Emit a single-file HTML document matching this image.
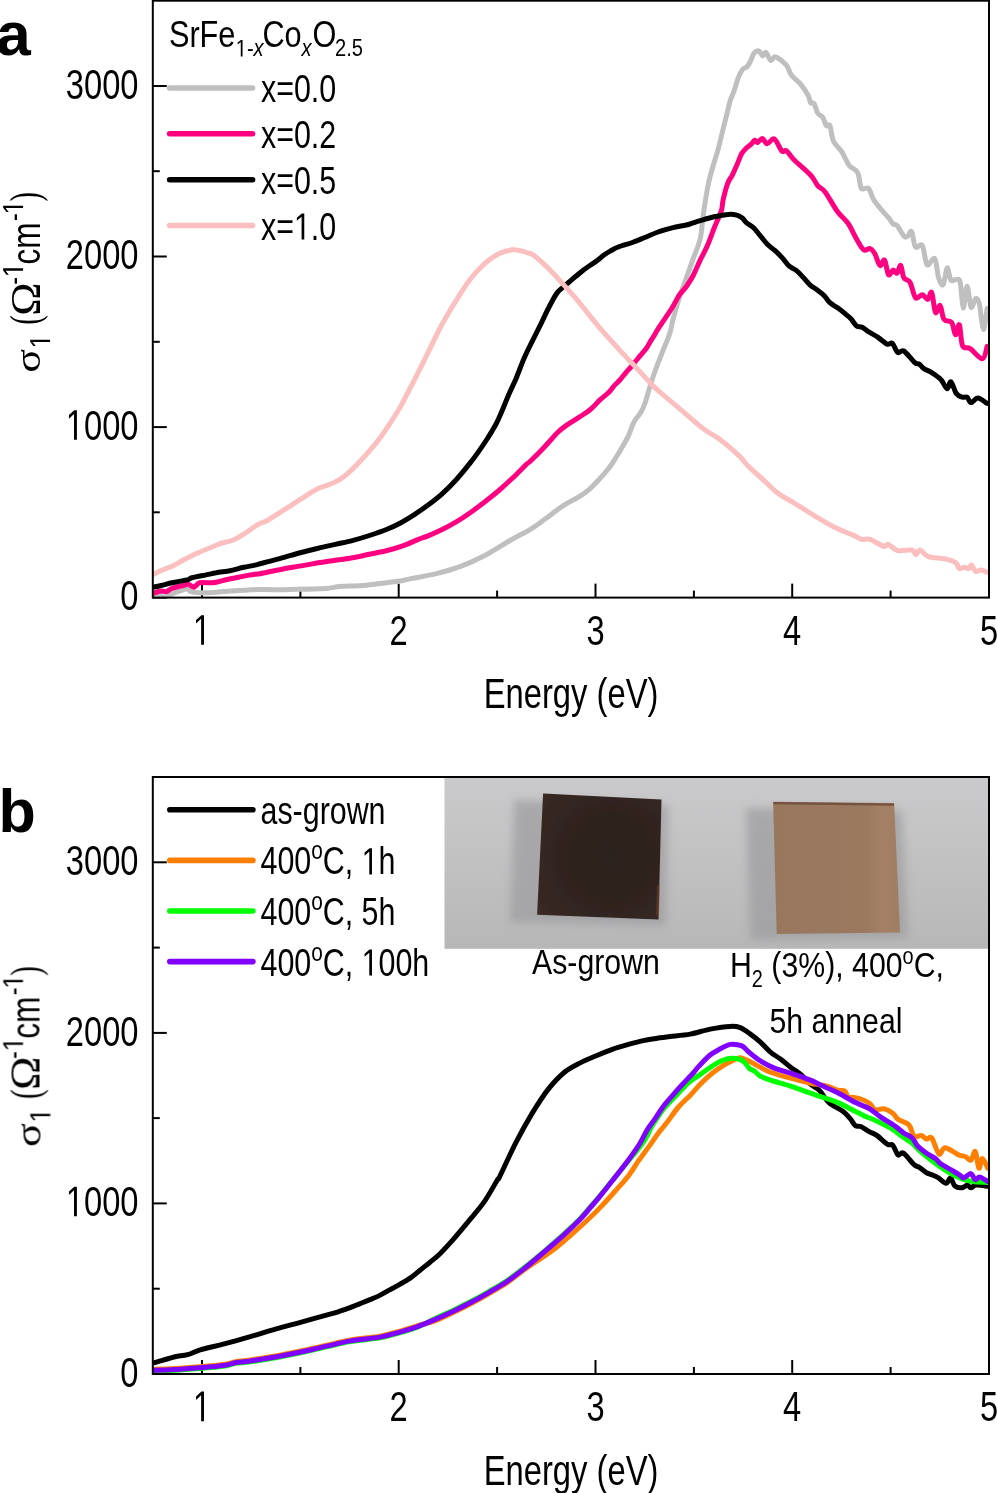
<!DOCTYPE html><html><head><meta charset="utf-8"><style>html,body{margin:0;padding:0;background:#fff;overflow:hidden}svg{display:block}text{font-family:'Liberation Sans', sans-serif;fill:#000}</style></head><body>
<svg width="997" height="1493" viewBox="0 0 997 1493">
<rect width="997" height="1493" fill="#fff"/>
<g style="will-change:opacity" opacity="0.999">
<defs>
<linearGradient id="bg" x1="0" y1="0" x2="0" y2="1"><stop offset="0" stop-color="#cacacc"/><stop offset="0.5" stop-color="#c1c1c2"/><stop offset="1" stop-color="#b8b7b8"/></linearGradient>
<radialGradient id="dk" cx="0.6" cy="0.5" r="0.85"><stop offset="0" stop-color="#2c201d"/><stop offset="0.35" stop-color="#2e221e"/><stop offset="0.75" stop-color="#362722"/><stop offset="1" stop-color="#3f2e29"/></radialGradient>
<linearGradient id="lt" x1="0" y1="0" x2="1" y2="0"><stop offset="0" stop-color="#98775d"/><stop offset="0.75" stop-color="#9b795f"/><stop offset="0.85" stop-color="#a38066"/><stop offset="1" stop-color="#a07e64"/></linearGradient>
<filter id="blur" x="-30%" y="-30%" width="160%" height="160%"><feGaussianBlur stdDeviation="4"/></filter>
<filter id="blur1" x="-30%" y="-30%" width="160%" height="160%"><feGaussianBlur stdDeviation="0.7"/></filter>
</defs>
<rect x="444.5" y="777.5" width="544.5" height="171.29999999999995" fill="url(#bg)"/>
<polygon points="514,800 668,805 666,926 510,922" fill="#9c9c9f" opacity="0.7" filter="url(#blur)"/>
<polygon points="746,808 902,810 908,938 750,940" fill="#9c9c9f" opacity="0.7" filter="url(#blur)"/>
<polygon points="543.1,793.6 661.5,799.5 658.5,919.4 537.1,914.8" fill="url(#dk)" filter="url(#blur1)"/>
<polygon points="657,885 660,886 659,916 656,915" fill="#8a4a2a" opacity="0.4" filter="url(#blur1)"/>
<polygon points="773.1,801.7 894.1,803.1 900.1,932.5 776.7,934.1" fill="url(#lt)" filter="url(#blur1)"/>
<polyline points="773.5,803.2 894,804.6" stroke="#74513f" stroke-width="2.2" fill="none" filter="url(#blur1)"/>
<line x1="152.8" y1="597.6" x2="166.8" y2="597.6" stroke="#000" stroke-width="2"/>
<line x1="152.8" y1="512.3" x2="159.8" y2="512.3" stroke="#000" stroke-width="2"/>
<line x1="152.8" y1="427.1" x2="166.8" y2="427.1" stroke="#000" stroke-width="2"/>
<line x1="152.8" y1="341.8" x2="159.8" y2="341.8" stroke="#000" stroke-width="2"/>
<line x1="152.8" y1="256.5" x2="166.8" y2="256.5" stroke="#000" stroke-width="2"/>
<line x1="152.8" y1="171.2" x2="159.8" y2="171.2" stroke="#000" stroke-width="2"/>
<line x1="152.8" y1="86.0" x2="166.8" y2="86.0" stroke="#000" stroke-width="2"/>
<line x1="202.0" y1="597.6" x2="202.0" y2="583.6" stroke="#000" stroke-width="2"/>
<line x1="300.4" y1="597.6" x2="300.4" y2="590.6" stroke="#000" stroke-width="2"/>
<line x1="398.7" y1="597.6" x2="398.7" y2="583.6" stroke="#000" stroke-width="2"/>
<line x1="497.1" y1="597.6" x2="497.1" y2="590.6" stroke="#000" stroke-width="2"/>
<line x1="595.5" y1="597.6" x2="595.5" y2="583.6" stroke="#000" stroke-width="2"/>
<line x1="693.9" y1="597.6" x2="693.9" y2="590.6" stroke="#000" stroke-width="2"/>
<line x1="792.2" y1="597.6" x2="792.2" y2="583.6" stroke="#000" stroke-width="2"/>
<line x1="890.6" y1="597.6" x2="890.6" y2="590.6" stroke="#000" stroke-width="2"/>
<line x1="989.0" y1="597.6" x2="989.0" y2="583.6" stroke="#000" stroke-width="2"/>
<line x1="152.8" y1="1374.0" x2="166.8" y2="1374.0" stroke="#000" stroke-width="2"/>
<line x1="152.8" y1="1288.7" x2="159.8" y2="1288.7" stroke="#000" stroke-width="2"/>
<line x1="152.8" y1="1203.4" x2="166.8" y2="1203.4" stroke="#000" stroke-width="2"/>
<line x1="152.8" y1="1118.1" x2="159.8" y2="1118.1" stroke="#000" stroke-width="2"/>
<line x1="152.8" y1="1032.9" x2="166.8" y2="1032.9" stroke="#000" stroke-width="2"/>
<line x1="152.8" y1="947.6" x2="159.8" y2="947.6" stroke="#000" stroke-width="2"/>
<line x1="152.8" y1="862.3" x2="166.8" y2="862.3" stroke="#000" stroke-width="2"/>
<line x1="202.0" y1="1374.0" x2="202.0" y2="1360.0" stroke="#000" stroke-width="2"/>
<line x1="300.4" y1="1374.0" x2="300.4" y2="1367.0" stroke="#000" stroke-width="2"/>
<line x1="398.7" y1="1374.0" x2="398.7" y2="1360.0" stroke="#000" stroke-width="2"/>
<line x1="497.1" y1="1374.0" x2="497.1" y2="1367.0" stroke="#000" stroke-width="2"/>
<line x1="595.5" y1="1374.0" x2="595.5" y2="1360.0" stroke="#000" stroke-width="2"/>
<line x1="693.9" y1="1374.0" x2="693.9" y2="1367.0" stroke="#000" stroke-width="2"/>
<line x1="792.2" y1="1374.0" x2="792.2" y2="1360.0" stroke="#000" stroke-width="2"/>
<line x1="890.6" y1="1374.0" x2="890.6" y2="1367.0" stroke="#000" stroke-width="2"/>
<line x1="989.0" y1="1374.0" x2="989.0" y2="1360.0" stroke="#000" stroke-width="2"/>
<clipPath id="ca"><rect x="152.8" y="0.7" width="836.2" height="596.9"/></clipPath>
<clipPath id="cb"><rect x="152.8" y="777" width="836.2" height="597"/></clipPath>
<g clip-path="url(#ca)">
<path d="M152.0,596.6 C152.2,596.6 152.2,596.9 153.3,596.6 C154.4,596.3 157.0,594.8 158.8,594.9 C160.6,595.0 162.1,597.3 164.3,597.1 C166.5,596.9 169.3,594.9 172.1,593.8 C174.9,592.7 178.3,591.3 180.9,590.5 C183.5,589.7 185.8,588.6 187.5,588.8 C189.2,589.0 188.8,591.0 190.8,591.6 C192.8,592.2 195.4,592.6 199.6,592.7 C203.8,592.8 209.8,592.6 216.2,592.2 C222.6,591.8 231.0,591.0 238.3,590.5 C245.6,590.0 253.9,589.5 260.0,589.4 C266.1,589.3 270.0,589.8 275.0,589.8 C280.0,589.8 281.7,589.7 290.0,589.5 C298.3,589.3 316.7,589.0 325.0,588.5 C333.3,588.0 333.7,587.0 340.0,586.5 C346.3,586.0 355.0,586.2 363.0,585.5 C371.0,584.8 381.8,583.2 388.0,582.5 C394.2,581.8 396.0,581.7 400.0,581.0 C404.0,580.3 405.9,579.6 412.0,578.4 C418.1,577.2 428.4,575.6 436.5,573.6 C444.6,571.6 452.6,569.4 460.6,566.4 C468.7,563.4 476.4,559.9 484.8,555.5 C493.2,551.1 503.4,544.3 510.9,540.0 C518.4,535.7 524.5,533.0 530.0,529.6 C535.5,526.2 539.3,523.2 544.0,519.8 C548.7,516.4 554.4,511.9 558.1,509.2 C561.9,506.5 563.0,505.7 566.5,503.6 C570.0,501.5 575.5,498.9 579.2,496.6 C583.0,494.3 585.5,492.7 589.0,489.6 C592.5,486.6 596.9,481.8 600.2,478.3 C603.5,474.8 606.2,471.5 608.6,468.5 C611.0,465.5 612.2,463.4 614.3,460.1 C616.4,456.8 619.0,452.8 621.3,448.8 C623.6,444.8 626.2,440.6 628.3,436.2 C630.4,431.8 631.8,426.1 633.9,422.1 C636.0,418.1 639.0,415.6 640.9,412.3 C642.8,409.0 643.8,406.5 645.2,402.5 C646.6,398.5 647.9,393.3 649.4,388.4 C650.9,383.5 652.3,378.9 654.4,373.0 C656.5,367.1 659.5,359.5 662.0,353.0 C664.5,346.5 667.7,339.7 669.6,333.9 C671.5,328.1 671.8,323.9 673.4,318.0 C675.0,312.1 677.0,305.1 679.1,298.5 C681.2,291.9 683.9,284.9 686.2,278.3 C688.6,271.7 690.9,265.2 693.2,258.7 C695.5,252.1 698.6,245.9 700.2,239.0 C701.8,232.1 702.1,223.5 703.0,217.0 C703.9,210.5 704.5,205.8 705.5,200.0 C706.5,194.2 707.6,187.3 708.8,181.9 C710.0,176.5 710.9,173.3 712.5,167.8 C714.1,162.3 716.5,155.3 718.2,149.1 C719.9,142.8 721.2,136.6 722.8,130.3 C724.3,124.1 726.2,116.6 727.5,111.6 C728.8,106.6 729.2,103.8 730.3,100.3 C731.4,96.8 732.8,94.5 734.1,90.9 C735.4,87.3 736.5,82.4 737.9,78.8 C739.3,75.2 741.0,71.4 742.5,69.4 C744.0,67.4 745.8,68.2 747.2,66.6 C748.6,65.0 749.9,62.2 751.0,60.0 C752.1,57.8 752.6,54.8 753.9,53.3 C755.2,51.8 757.4,50.5 758.8,50.9 C760.2,51.3 761.2,55.4 762.4,55.7 C763.6,56.0 764.6,51.7 766.0,52.5 C767.4,53.3 769.2,59.8 770.8,60.5 C772.4,61.2 773.0,56.1 775.6,56.9 C778.2,57.7 783.9,62.3 786.5,65.3 C789.1,68.3 788.9,71.8 791.3,75.0 C793.7,78.2 798.2,81.2 801.0,84.6 C803.8,88.0 806.6,92.5 808.2,95.5 C809.8,98.5 809.6,101.3 810.6,102.7 C811.6,104.1 813.0,102.1 814.2,103.9 C815.4,105.7 816.5,111.3 817.9,113.5 C819.3,115.7 821.3,115.2 822.7,117.2 C824.1,119.2 825.1,124.2 826.3,125.6 C827.5,127.0 828.7,123.0 829.9,125.6 C831.1,128.2 831.5,136.9 833.5,141.3 C835.5,145.7 839.4,148.1 842.0,152.1 C844.6,156.1 846.6,162.0 849.2,165.4 C851.8,168.8 855.7,168.8 857.7,172.6 C859.7,176.4 859.5,185.7 861.3,188.3 C863.1,190.9 866.5,186.5 868.5,188.3 C870.5,190.1 871.4,195.8 873.4,199.2 C875.4,202.6 878.1,205.7 880.6,208.8 C883.1,211.9 886.4,215.2 888.5,217.7 C890.6,220.2 891.7,222.6 893.1,223.9 C894.5,225.2 895.2,223.4 897.0,225.4 C898.8,227.4 902.1,234.4 903.9,236.2 C905.7,238.0 906.5,237.0 907.8,236.2 C909.1,235.4 910.3,229.8 911.6,231.6 C912.9,233.4 913.7,244.7 915.5,247.0 C917.3,249.3 920.5,242.6 922.4,245.5 C924.3,248.4 925.0,262.5 927.0,264.7 C929.0,266.9 932.8,256.4 934.7,258.6 C936.6,260.8 937.2,273.5 938.6,277.8 C940.0,282.1 941.8,286.4 943.2,284.7 C944.6,283.0 945.8,268.6 947.1,267.8 C948.4,267.0 949.4,278.2 950.9,280.1 C952.4,282.0 954.8,279.0 956.3,279.4 C957.8,279.8 959.1,277.6 960.2,282.4 C961.4,287.1 962.1,307.2 963.2,307.9 C964.4,308.5 965.8,286.4 967.1,286.3 C968.4,286.2 969.6,305.1 971.0,307.1 C972.4,309.2 974.2,299.1 975.6,298.6 C977.0,298.1 978.1,298.9 979.4,304.0 C980.7,309.1 982.0,328.6 983.3,329.4 C984.6,330.2 986.5,312.1 987.1,308.6" fill="none" stroke="#bfbfbf" stroke-width="5.0" stroke-linejoin="round" stroke-linecap="round"/>
<path d="M152.0,593.5 C152.2,593.5 151.8,593.7 153.3,593.3 C154.8,592.9 158.8,591.4 161.0,591.1 C163.2,590.8 164.7,592.1 166.5,591.6 C168.3,591.1 169.3,589.3 172.1,588.3 C174.9,587.3 180.3,586.1 183.1,585.5 C185.8,584.9 186.8,584.1 188.6,584.4 C190.4,584.7 192.3,587.5 194.1,587.2 C195.9,586.9 196.8,583.5 199.6,582.8 C202.4,582.1 207.9,582.9 210.7,582.8 C213.5,582.7 213.4,582.8 216.2,582.2 C218.9,581.7 223.5,580.3 227.2,579.5 C230.9,578.7 234.6,578.0 238.3,577.3 C242.0,576.6 245.7,575.7 249.3,575.1 C252.9,574.5 257.0,574.2 260.0,573.7 C263.0,573.2 263.1,573.0 267.1,572.2 C271.1,571.4 278.4,569.8 284.1,568.7 C289.8,567.7 295.5,566.9 301.2,565.9 C306.9,564.9 312.5,563.8 318.2,562.8 C323.9,561.8 329.6,561.1 335.3,560.2 C341.0,559.4 346.6,558.7 352.3,557.7 C358.0,556.7 363.7,555.4 369.4,554.3 C375.1,553.1 380.7,552.2 386.4,550.8 C392.1,549.4 398.2,547.6 403.5,545.7 C408.8,543.8 414.2,541.0 418.3,539.4 C422.4,537.8 424.1,537.5 428.1,535.9 C432.1,534.3 437.4,531.9 442.1,529.6 C446.8,527.3 451.5,524.7 456.2,521.9 C460.9,519.1 465.5,516.0 470.2,512.7 C474.9,509.4 479.6,505.8 484.3,502.2 C489.0,498.6 493.6,495.0 498.3,491.0 C503.0,487.0 507.6,482.8 512.3,478.3 C517.0,473.9 523.4,467.1 526.4,464.3 C529.4,461.5 527.1,464.3 530.0,461.5 C532.9,458.7 539.3,452.3 544.0,447.4 C548.7,442.5 554.6,435.5 558.1,432.0 C561.6,428.5 561.6,428.9 565.1,426.4 C568.6,423.9 575.0,420.0 579.2,417.2 C583.4,414.4 586.9,412.4 590.4,409.5 C593.9,406.6 597.2,402.5 600.2,399.7 C603.2,396.9 606.2,395.0 608.6,392.6 C611.0,390.2 612.4,387.7 614.3,385.6 C616.2,383.5 618.1,382.0 619.9,380.0 C621.7,378.0 623.4,375.6 625.3,373.4 C627.2,371.1 628.9,369.3 631.3,366.5 C633.6,363.7 636.9,359.7 639.4,356.6 C641.9,353.6 644.5,350.8 646.4,348.2 C648.3,345.6 649.2,343.4 650.6,341.1 C652.0,338.8 653.5,336.5 654.8,334.5 C656.0,332.5 655.2,333.3 658.1,328.9 C661.0,324.4 668.6,313.4 672.1,307.8 C675.6,302.2 676.9,298.7 679.2,295.2 C681.6,291.7 683.9,290.1 686.2,286.8 C688.5,283.5 690.9,279.9 693.2,275.5 C695.5,271.1 697.9,265.0 700.2,260.1 C702.5,255.2 704.9,251.4 707.2,246.0 C709.6,240.6 711.9,233.7 714.3,227.8 C716.6,222.0 719.8,215.5 721.3,210.9 C722.8,206.3 722.0,205.0 723.0,200.5 C724.0,196.0 726.0,188.0 727.5,183.8 C729.0,179.6 730.6,178.4 732.2,175.3 C733.8,172.2 735.3,168.6 736.9,165.0 C738.5,161.4 740.0,156.6 741.6,153.8 C743.2,151.0 744.7,149.7 746.3,148.1 C747.9,146.5 749.6,145.7 751.0,144.4 C752.4,143.1 753.6,140.5 754.7,140.2 C755.8,139.9 756.3,142.8 757.6,142.5 C758.9,142.2 760.8,138.4 762.4,138.6 C764.0,138.8 765.2,143.6 767.2,143.7 C769.2,143.8 772.0,137.7 774.4,138.9 C776.8,140.1 779.7,148.9 781.7,150.9 C783.7,152.9 784.5,149.5 786.5,150.9 C788.5,152.3 789.7,155.4 793.7,159.4 C797.7,163.4 806.6,170.6 810.6,175.0 C814.6,179.4 815.5,183.1 817.9,185.9 C820.3,188.7 821.9,187.7 825.1,191.9 C828.3,196.1 833.4,206.0 837.2,211.2 C841.0,216.4 844.8,218.7 848.0,223.3 C851.2,227.9 853.9,234.5 856.5,238.9 C859.1,243.3 861.5,248.2 863.7,249.8 C866.0,251.4 868.2,247.9 870.0,248.5 C871.8,249.1 872.9,250.4 874.6,253.2 C876.3,256.0 878.3,264.4 880.0,265.5 C881.7,266.6 883.2,258.6 884.6,260.1 C886.0,261.6 887.1,273.0 888.5,274.7 C889.9,276.4 891.7,270.4 893.1,270.1 C894.5,269.9 895.7,274.0 897.0,273.2 C898.3,272.4 899.6,264.7 900.8,265.5 C901.9,266.3 902.3,275.0 903.9,277.8 C905.5,280.6 908.2,279.1 910.1,282.4 C912.0,285.7 913.5,295.7 915.5,297.8 C917.5,299.9 920.4,294.5 922.4,294.8 C924.4,295.1 926.2,299.8 927.8,299.4 C929.3,299.0 930.4,290.2 931.7,292.4 C933.0,294.6 934.1,310.3 935.5,312.5 C936.9,314.7 938.7,304.4 940.1,305.5 C941.5,306.6 942.1,316.6 944.0,319.4 C945.9,322.2 949.8,319.9 951.7,322.5 C953.6,325.1 954.2,334.4 955.5,334.8 C956.8,335.2 958.2,323.0 959.4,324.8 C960.6,326.6 960.7,341.6 962.5,345.6 C964.3,349.6 966.9,346.5 970.2,348.7 C973.5,350.9 979.7,359.1 982.5,358.7 C985.3,358.3 986.3,348.4 987.1,346.4" fill="none" stroke="#ff0080" stroke-width="5.0" stroke-linejoin="round" stroke-linecap="round"/>
<path d="M152.0,587.4 C152.2,587.4 151.8,587.5 153.3,587.2 C154.8,586.9 157.9,586.2 161.0,585.5 C164.1,584.8 168.4,583.6 172.1,582.8 C175.8,582.0 180.3,581.1 183.1,580.6 C185.8,580.1 187.1,580.0 188.6,579.5 C190.1,579.0 189.1,578.5 191.9,577.8 C194.7,577.1 201.1,575.9 205.2,575.1 C209.2,574.3 212.5,573.4 216.2,572.8 C219.9,572.1 224.4,571.7 227.2,571.2 C229.9,570.8 229.9,570.8 232.7,570.1 C235.5,569.5 240.1,568.1 243.8,567.3 C247.5,566.5 252.1,565.7 254.8,565.1 C257.5,564.5 257.9,564.3 260.0,563.8 C262.1,563.3 263.1,563.0 267.1,561.9 C271.1,560.8 278.4,558.9 284.1,557.3 C289.8,555.7 295.5,554.0 301.2,552.5 C306.9,551.0 312.5,549.6 318.2,548.3 C323.9,546.9 329.6,545.7 335.3,544.4 C341.0,543.1 346.6,542.1 352.3,540.6 C358.0,539.1 363.7,537.4 369.4,535.5 C375.1,533.6 381.3,531.5 386.4,529.5 C391.5,527.5 395.4,525.8 400.0,523.3 C404.6,520.8 409.3,517.8 414.0,514.8 C418.7,511.7 423.4,508.5 428.1,505.0 C432.8,501.5 437.4,498.0 442.1,493.8 C446.8,489.6 451.5,484.9 456.2,479.7 C460.9,474.5 466.5,467.6 470.2,462.9 C473.9,458.2 475.8,455.6 478.6,451.6 C481.4,447.6 484.3,443.4 487.1,439.0 C489.9,434.6 492.9,429.8 495.5,425.0 C498.1,420.2 500.1,415.2 502.4,410.0 C504.6,404.8 506.7,399.3 509.0,394.0 C511.3,388.7 513.6,384.3 516.1,378.4 C518.6,372.4 521.4,364.5 524.1,358.3 C526.8,352.1 529.5,346.9 532.2,341.4 C534.9,335.9 537.5,330.9 540.2,325.4 C542.9,319.9 545.6,313.7 548.3,308.5 C551.0,303.3 554.0,297.4 556.3,294.0 C558.6,290.6 560.0,290.0 562.1,288.0 C564.2,286.0 566.8,284.0 569.1,282.0 C571.5,280.0 573.9,277.9 576.2,276.0 C578.6,274.1 580.9,272.1 583.2,270.3 C585.5,268.5 587.9,266.9 590.2,265.3 C592.5,263.7 594.9,262.3 597.2,260.5 C599.6,258.7 601.9,256.4 604.3,254.7 C606.6,253.0 609.0,251.8 611.3,250.5 C613.6,249.2 614.8,248.3 618.3,247.0 C621.8,245.7 628.0,244.0 632.3,242.5 C636.6,241.0 639.7,239.6 644.0,237.8 C648.3,236.1 653.4,233.7 658.1,232.0 C662.8,230.3 667.4,229.0 672.1,227.8 C676.8,226.6 682.7,225.8 686.2,225.0 C689.7,224.2 690.9,223.5 693.2,222.8 C695.5,222.1 696.7,221.7 700.2,220.7 C703.7,219.7 709.6,217.9 714.3,216.8 C719.0,215.8 724.6,214.7 728.3,214.4 C732.0,214.1 734.4,214.5 736.7,215.1 C739.0,215.7 740.6,216.6 742.3,217.9 C743.9,219.2 744.7,221.2 746.6,222.8 C748.5,224.5 751.3,225.6 753.6,227.8 C755.9,230.0 758.2,233.3 760.6,236.2 C763.0,239.1 765.7,242.7 768.1,245.1 C770.5,247.5 772.8,248.6 775.1,250.7 C777.4,252.8 779.8,255.1 782.1,257.7 C784.5,260.3 786.9,264.1 789.2,266.2 C791.6,268.3 793.9,268.5 796.2,270.4 C798.5,272.3 800.9,274.9 803.2,277.4 C805.5,279.8 807.9,283.0 810.2,285.1 C812.5,287.2 814.9,288.2 817.2,290.0 C819.6,291.8 822.2,293.6 824.3,295.7 C826.4,297.8 827.6,300.6 829.9,302.7 C832.2,304.8 835.7,306.4 838.3,308.3 C840.9,310.2 843.2,312.1 845.3,313.9 C847.4,315.6 849.0,316.8 850.9,318.8 C852.8,320.8 854.7,324.5 856.6,325.9 C858.5,327.3 860.1,326.2 862.2,327.3 C864.3,328.4 866.6,330.6 869.2,332.2 C871.8,333.8 874.7,335.1 877.7,337.1 C880.7,339.1 884.6,343.1 887.0,344.1 C889.4,345.1 890.5,341.9 892.3,343.3 C894.1,344.7 895.8,351.2 897.7,352.5 C899.6,353.8 901.1,349.3 903.9,351.0 C906.7,352.7 912.1,360.3 914.7,362.5 C917.3,364.7 917.8,363.1 919.3,364.1 C920.8,365.1 921.8,367.3 923.9,368.7 C926.0,370.1 928.9,370.8 931.7,372.6 C934.5,374.4 938.3,376.8 940.9,379.5 C943.5,382.2 945.4,388.3 947.1,388.7 C948.8,389.1 949.4,381.0 950.9,381.8 C952.4,382.6 954.4,390.8 956.3,393.4 C958.2,396.0 960.7,396.6 962.5,397.2 C964.3,397.8 965.7,396.3 967.1,397.2 C968.5,398.1 969.2,402.5 971.0,402.6 C972.8,402.7 975.2,397.9 977.9,398.0 C980.6,398.1 985.6,402.5 987.1,403.4" fill="none" stroke="#000000" stroke-width="5.0" stroke-linejoin="round" stroke-linecap="round"/>
<path d="M152.0,575.0 C152.2,574.9 151.8,575.2 153.3,574.5 C154.8,573.8 157.9,572.0 161.0,570.6 C164.1,569.2 168.4,567.9 172.1,566.2 C175.8,564.5 179.4,562.1 183.1,560.2 C186.8,558.3 190.4,556.4 194.1,554.6 C197.8,552.9 201.5,551.2 205.2,549.7 C208.9,548.2 213.4,546.4 216.2,545.3 C218.9,544.2 218.9,543.8 221.7,543.0 C224.4,542.2 229.0,541.8 232.7,540.3 C236.4,538.8 240.1,536.5 243.8,534.2 C247.5,531.9 252.1,528.3 254.8,526.5 C257.5,524.7 257.9,524.5 260.0,523.5 C262.1,522.5 263.1,522.8 267.1,520.5 C271.1,518.2 278.4,513.5 284.1,509.9 C289.8,506.3 295.5,502.4 301.2,498.8 C306.9,495.2 313.4,491.0 318.2,488.6 C323.0,486.2 326.4,485.9 330.0,484.3 C333.6,482.8 336.6,481.5 340.0,479.3 C343.4,477.1 346.8,474.3 350.1,471.3 C353.5,468.3 356.8,464.8 360.1,461.3 C363.4,457.8 366.8,454.1 370.1,450.2 C373.5,446.3 376.9,442.2 380.2,437.7 C383.5,433.2 386.9,428.2 390.2,423.1 C393.5,418.0 396.9,413.0 400.2,407.1 C403.5,401.2 407.8,392.5 410.2,388.0 C412.6,383.5 411.3,386.1 414.3,380.2 C417.3,374.3 423.5,361.7 428.1,352.4 C432.7,343.1 437.4,333.0 442.1,324.3 C446.8,315.6 451.5,307.9 456.2,300.4 C460.9,292.9 465.5,285.4 470.2,279.3 C474.9,273.2 479.6,268.1 484.3,263.9 C489.0,259.7 493.6,256.4 498.3,254.0 C503.0,251.7 508.8,250.4 512.3,249.8 C515.8,249.2 517.0,250.1 519.4,250.5 C521.8,250.9 524.0,251.7 526.4,252.5 C528.8,253.3 530.4,252.9 534.0,255.5 C537.6,258.1 543.9,264.1 548.1,268.1 C552.3,272.1 554.0,274.1 559.0,279.6 C564.0,285.1 571.9,293.7 578.3,301.3 C584.7,308.9 591.2,317.8 597.6,325.4 C604.0,333.0 610.5,340.1 616.9,347.1 C623.3,354.1 629.8,360.8 636.2,367.6 C642.6,374.4 648.3,381.3 655.5,388.1 C662.7,394.9 671.6,401.8 679.6,408.6 C687.6,415.4 697.0,424.0 703.7,429.1 C710.4,434.2 714.0,434.9 720.0,439.4 C726.0,443.9 734.8,451.7 739.4,456.1 C744.0,460.5 744.1,462.1 747.8,465.8 C751.5,469.5 756.6,473.7 761.7,478.3 C766.8,482.9 773.2,489.7 778.3,493.6 C783.4,497.5 786.2,498.2 792.2,501.9 C798.2,505.6 807.5,511.6 814.5,515.8 C821.5,520.0 827.4,523.6 833.9,526.9 C840.4,530.1 848.8,533.2 853.4,535.3 C858.0,537.4 858.9,538.7 861.7,539.4 C864.5,540.1 866.3,538.2 870.0,539.4 C873.7,540.6 880.9,545.6 883.9,546.4 C886.9,547.2 885.8,543.7 888.1,544.4 C890.4,545.1 893.9,549.7 897.8,550.6 C901.7,551.5 908.7,549.3 911.7,550.0 C914.7,550.7 914.5,554.7 915.9,554.7 C917.3,554.7 917.9,549.7 920.0,550.0 C922.1,550.3 924.2,555.2 928.4,556.7 C932.6,558.2 940.5,557.8 945.1,558.9 C949.7,560.0 953.9,561.5 956.2,563.1 C958.5,564.7 957.6,567.9 959.0,568.6 C960.4,569.3 962.9,567.2 964.5,567.2 C966.1,567.2 967.5,569.0 968.7,568.6 C969.9,568.2 970.4,564.5 971.5,565.0 C972.6,565.5 974.0,570.6 975.6,571.4 C977.2,572.2 979.4,569.9 981.2,570.0 C983.1,570.1 985.8,571.8 986.7,572.2" fill="none" stroke="#fbbfbf" stroke-width="5.0" stroke-linejoin="round" stroke-linecap="round"/>
</g><g clip-path="url(#cb)">
<path d="M153.8,1362.9 C155.2,1362.5 158.9,1361.4 162.5,1360.4 C166.1,1359.4 170.9,1357.7 175.1,1356.7 C179.3,1355.8 183.4,1355.8 187.6,1354.7 C191.8,1353.6 193.9,1351.8 200.2,1349.9 C206.5,1348.1 216.8,1345.8 225.2,1343.6 C233.5,1341.4 241.9,1339.0 250.3,1336.6 C258.7,1334.2 267.0,1331.5 275.4,1329.1 C283.8,1326.7 291.4,1324.8 300.5,1322.3 C309.6,1319.8 323.4,1316.0 330.0,1314.2 C336.6,1312.4 336.6,1312.3 340.0,1311.2 C343.4,1310.1 346.8,1308.9 350.1,1307.6 C353.5,1306.3 356.8,1304.9 360.1,1303.6 C363.4,1302.3 366.8,1301.0 370.1,1299.6 C373.5,1298.2 376.9,1296.8 380.2,1295.1 C383.5,1293.4 386.9,1291.4 390.2,1289.6 C393.5,1287.8 396.9,1286.0 400.2,1284.1 C403.5,1282.2 406.8,1280.5 410.2,1278.1 C413.6,1275.8 417.0,1272.7 420.3,1270.0 C423.6,1267.3 426.7,1264.9 430.0,1262.2 C433.3,1259.5 436.3,1257.3 440.0,1253.7 C443.7,1250.1 447.1,1246.5 452.2,1240.7 C457.2,1235.0 464.9,1225.8 470.3,1219.2 C475.7,1212.6 480.2,1207.6 484.7,1201.1 C489.2,1194.6 494.8,1184.2 497.3,1180.0 C499.9,1175.8 496.9,1182.3 500.0,1176.0 C503.1,1169.7 510.6,1152.7 516.0,1142.3 C521.4,1131.9 526.8,1122.2 532.1,1113.4 C537.5,1104.6 542.8,1096.2 548.1,1089.4 C553.5,1082.6 558.9,1076.9 564.2,1072.5 C569.6,1068.1 574.9,1065.7 580.2,1062.9 C585.6,1060.1 590.9,1058.0 596.3,1055.7 C601.6,1053.4 606.9,1051.2 612.3,1049.3 C617.6,1047.4 623.0,1045.9 628.4,1044.4 C633.8,1042.9 639.1,1041.5 644.4,1040.4 C649.7,1039.3 655.7,1038.5 660.0,1037.8 C664.3,1037.1 665.1,1037.1 670.1,1036.5 C675.1,1035.9 683.5,1035.3 690.2,1034.1 C696.9,1032.9 703.5,1030.4 710.2,1029.1 C716.9,1027.8 725.3,1026.6 730.3,1026.4 C735.3,1026.2 736.9,1026.4 740.3,1027.7 C743.6,1029.0 747.0,1031.7 750.4,1034.1 C753.8,1036.5 757.1,1039.1 760.4,1042.1 C763.7,1045.1 767.0,1049.3 770.4,1052.1 C773.8,1054.9 777.1,1056.6 780.5,1059.1 C783.9,1061.6 787.2,1064.7 790.5,1067.2 C793.8,1069.7 797.2,1071.4 800.5,1074.2 C803.8,1077.0 807.2,1081.4 810.5,1084.2 C813.8,1087.0 816.9,1087.9 820.0,1091.0 C823.1,1094.1 825.0,1099.2 828.9,1102.6 C832.8,1106.0 839.5,1108.8 843.1,1111.5 C846.7,1114.2 848.1,1116.2 850.2,1118.6 C852.3,1121.0 853.7,1124.4 855.5,1125.7 C857.3,1127.0 858.4,1125.5 860.8,1126.5 C863.2,1127.5 867.0,1130.4 869.7,1131.9 C872.4,1133.4 873.8,1133.3 876.8,1135.4 C879.8,1137.5 884.8,1142.7 887.5,1144.3 C890.2,1145.9 891.0,1143.4 892.8,1145.2 C894.6,1147.0 896.3,1153.6 898.1,1154.9 C899.9,1156.2 900.7,1151.6 903.4,1153.2 C906.1,1154.8 911.4,1162.4 914.1,1164.7 C916.8,1167.0 917.3,1166.0 919.4,1167.3 C921.5,1168.6 923.5,1171.1 926.5,1172.7 C929.5,1174.3 934.0,1175.3 937.2,1177.1 C940.5,1178.9 943.8,1183.1 946.0,1183.3 C948.2,1183.5 949.0,1177.5 950.5,1178.0 C952.0,1178.5 953.0,1184.4 954.9,1186.0 C956.8,1187.6 959.9,1188.0 962.0,1187.8 C964.1,1187.6 965.8,1185.1 967.3,1185.1 C968.8,1185.1 969.4,1187.8 970.9,1187.8 C972.4,1187.8 973.4,1185.3 976.2,1185.1 C979.0,1184.8 985.9,1186.1 987.8,1186.3" fill="none" stroke="#000000" stroke-width="5.0" stroke-linejoin="round" stroke-linecap="round"/>
<path d="M153.8,1369.3 C157.4,1369.2 167.4,1368.9 175.1,1368.5 C182.8,1368.1 191.8,1367.4 200.2,1366.7 C208.5,1366.0 219.3,1365.0 225.2,1364.2 C231.0,1363.4 231.1,1362.4 235.3,1361.7 C239.5,1361.0 243.6,1361.0 250.3,1360.0 C257.0,1359.0 267.0,1357.5 275.4,1356.0 C283.8,1354.5 292.1,1352.8 300.5,1351.0 C308.9,1349.2 317.1,1347.2 325.5,1345.4 C333.9,1343.6 341.5,1341.5 350.6,1339.9 C359.7,1338.4 372.1,1337.5 380.0,1336.1 C387.9,1334.7 392.1,1333.3 398.1,1331.6 C404.1,1329.9 410.1,1327.8 416.1,1326.1 C422.1,1324.3 428.2,1323.3 434.2,1321.1 C440.2,1318.9 446.2,1315.8 452.2,1313.0 C458.2,1310.2 464.3,1307.2 470.3,1304.0 C476.3,1300.8 482.3,1297.5 488.3,1294.0 C494.3,1290.5 500.4,1287.2 506.4,1283.2 C512.4,1279.2 516.6,1275.2 524.4,1269.7 C532.2,1264.2 545.0,1256.0 553.0,1250.0 C561.0,1244.0 566.3,1238.9 572.2,1233.8 C578.1,1228.7 583.2,1224.1 588.3,1219.3 C593.4,1214.5 597.9,1210.0 602.7,1204.9 C607.5,1199.8 612.9,1193.7 617.2,1188.9 C621.5,1184.1 624.9,1180.6 628.4,1176.0 C631.9,1171.4 636.1,1164.4 638.0,1161.5 C639.9,1158.6 638.1,1161.5 640.0,1158.8 C641.9,1156.1 646.6,1149.8 649.6,1145.6 C652.6,1141.4 655.1,1137.5 658.1,1133.5 C661.1,1129.5 664.3,1125.9 667.7,1121.5 C671.1,1117.1 674.7,1111.4 678.5,1107.0 C682.3,1102.6 687.0,1098.8 690.6,1095.0 C694.2,1091.2 696.6,1087.8 700.2,1084.2 C703.8,1080.6 708.2,1076.5 712.2,1073.3 C716.2,1070.1 720.7,1067.1 724.3,1064.9 C727.9,1062.7 731.3,1061.3 733.9,1060.1 C736.5,1058.9 737.5,1057.6 739.9,1057.7 C742.3,1057.8 744.9,1059.1 748.3,1060.7 C751.7,1062.3 756.7,1065.4 760.4,1067.3 C764.1,1069.2 765.4,1070.4 770.4,1072.2 C775.4,1074.0 783.8,1076.4 790.5,1078.2 C797.2,1080.0 805.6,1082.1 810.5,1083.2 C815.4,1084.3 816.9,1084.2 820.0,1084.8 C823.1,1085.4 825.9,1085.7 828.9,1086.6 C831.9,1087.5 835.1,1089.5 837.8,1090.2 C840.5,1091.0 843.1,1089.8 844.9,1091.1 C846.7,1092.4 847.2,1097.1 848.4,1098.1 C849.6,1099.1 849.9,1097.1 852.0,1097.3 C854.1,1097.5 857.8,1098.0 860.8,1099.0 C863.8,1100.0 867.3,1101.7 869.7,1103.5 C872.1,1105.3 872.6,1108.8 875.0,1109.7 C877.4,1110.6 880.9,1108.2 883.9,1108.8 C886.9,1109.4 890.4,1111.4 892.8,1113.2 C895.2,1115.0 895.4,1117.5 898.1,1119.4 C900.8,1121.3 906.1,1122.0 908.8,1124.8 C911.5,1127.6 912.0,1134.5 914.1,1136.3 C916.2,1138.1 919.1,1135.0 921.2,1135.4 C923.3,1135.9 924.7,1138.5 926.5,1139.0 C928.3,1139.5 929.7,1135.6 931.8,1138.1 C933.9,1140.6 936.8,1152.4 938.9,1154.0 C941.0,1155.6 942.2,1148.4 944.3,1147.8 C946.4,1147.2 949.0,1149.3 951.4,1150.5 C953.8,1151.7 956.1,1153.9 958.5,1154.9 C960.9,1155.9 963.5,1155.8 965.6,1156.7 C967.7,1157.6 969.3,1161.1 970.9,1160.2 C972.5,1159.3 974.0,1150.1 975.3,1151.4 C976.6,1152.7 977.7,1167.0 978.9,1168.2 C980.1,1169.4 980.9,1158.5 982.4,1158.5 C983.9,1158.5 986.9,1166.6 987.8,1168.2" fill="none" stroke="#ff8000" stroke-width="5.0" stroke-linejoin="round" stroke-linecap="round"/>
<path d="M153.8,1371.0 C157.4,1370.9 167.4,1370.6 175.1,1370.2 C182.8,1369.8 191.8,1369.1 200.2,1368.4 C208.5,1367.7 219.3,1366.7 225.2,1365.9 C231.0,1365.1 231.1,1364.1 235.3,1363.4 C239.5,1362.7 243.6,1362.7 250.3,1361.7 C257.0,1360.8 267.0,1359.2 275.4,1357.7 C283.8,1356.2 292.1,1354.5 300.5,1352.7 C308.9,1350.9 317.1,1349.0 325.5,1347.1 C333.9,1345.3 341.5,1343.2 350.6,1341.6 C359.7,1340.1 372.1,1339.2 380.0,1337.8 C387.9,1336.4 392.1,1335.0 398.1,1333.3 C404.1,1331.6 410.1,1330.2 416.1,1327.8 C422.1,1325.4 428.2,1321.7 434.2,1318.9 C440.2,1316.1 446.2,1313.7 452.2,1310.8 C458.2,1307.9 464.3,1305.0 470.3,1301.8 C476.3,1298.6 482.3,1295.3 488.3,1291.8 C494.3,1288.3 500.4,1285.0 506.4,1281.0 C512.4,1277.0 517.7,1272.8 524.4,1267.5 C531.1,1262.2 539.9,1254.9 546.5,1249.3 C553.1,1243.7 558.6,1239.0 564.2,1233.9 C569.8,1228.8 575.9,1223.0 580.2,1218.6 C584.5,1214.2 586.7,1211.1 589.9,1207.4 C593.1,1203.7 595.8,1200.8 599.5,1196.3 C603.2,1191.8 607.5,1186.4 612.3,1180.5 C617.1,1174.6 623.0,1167.7 628.4,1161.0 C633.8,1154.3 640.5,1146.3 644.4,1140.5 C648.3,1134.7 648.7,1131.4 652.0,1126.0 C655.3,1120.6 660.1,1113.3 664.1,1108.2 C668.1,1103.1 672.1,1099.8 676.1,1095.6 C680.1,1091.4 684.1,1086.5 688.1,1083.0 C692.1,1079.5 696.2,1077.3 700.2,1074.5 C704.2,1071.7 708.6,1068.4 712.2,1066.1 C715.8,1063.8 718.6,1062.0 721.8,1060.7 C725.0,1059.4 728.5,1058.5 731.5,1058.3 C734.5,1058.1 737.7,1058.8 739.9,1059.5 C742.1,1060.2 743.1,1061.0 744.7,1062.5 C746.3,1064.0 747.9,1067.1 749.5,1068.5 C751.1,1069.9 752.5,1069.6 754.3,1070.9 C756.1,1072.2 757.7,1074.7 760.4,1076.2 C763.1,1077.8 765.4,1078.5 770.4,1080.2 C775.4,1081.9 783.8,1084.0 790.5,1086.2 C797.2,1088.4 805.6,1091.5 810.5,1093.2 C815.4,1094.9 815.5,1094.8 820.0,1096.4 C824.5,1098.0 831.9,1100.1 837.8,1102.6 C843.7,1105.1 850.8,1109.1 855.5,1111.5 C860.2,1113.9 863.2,1115.5 866.2,1116.8 C869.2,1118.1 869.2,1117.5 873.3,1119.4 C877.4,1121.3 886.3,1125.5 891.0,1128.3 C895.7,1131.1 898.2,1133.8 901.7,1136.3 C905.2,1138.8 909.3,1141.0 912.3,1143.4 C915.2,1145.8 915.8,1147.4 919.4,1150.5 C923.0,1153.6 928.9,1158.5 933.6,1162.0 C938.3,1165.5 943.1,1169.0 947.8,1171.8 C952.5,1174.6 957.9,1177.3 962.0,1178.9 C966.1,1180.5 968.4,1180.9 972.7,1181.5 C977.0,1182.1 985.3,1182.2 987.8,1182.4" fill="none" stroke="#00ff00" stroke-width="5.0" stroke-linejoin="round" stroke-linecap="round"/>
<path d="M153.8,1370.3 C157.4,1370.2 167.4,1369.9 175.1,1369.5 C182.8,1369.1 191.8,1368.4 200.2,1367.7 C208.5,1367.0 219.3,1366.0 225.2,1365.2 C231.0,1364.4 231.1,1363.4 235.3,1362.7 C239.5,1362.0 243.6,1362.0 250.3,1361.0 C257.0,1360.0 267.0,1358.5 275.4,1357.0 C283.8,1355.5 292.1,1353.8 300.5,1352.0 C308.9,1350.2 317.1,1348.2 325.5,1346.4 C333.9,1344.6 341.5,1342.5 350.6,1340.9 C359.7,1339.4 372.1,1338.5 380.0,1337.1 C387.9,1335.7 392.1,1334.3 398.1,1332.6 C404.1,1330.9 410.1,1329.2 416.1,1327.1 C422.1,1325.0 428.2,1322.5 434.2,1319.9 C440.2,1317.4 446.2,1314.7 452.2,1311.8 C458.2,1308.9 464.3,1306.0 470.3,1302.8 C476.3,1299.6 482.3,1296.3 488.3,1292.8 C494.3,1289.3 500.4,1286.0 506.4,1282.0 C512.4,1278.0 517.7,1273.8 524.4,1268.5 C531.1,1263.2 539.9,1255.7 546.5,1250.0 C553.1,1244.3 558.6,1239.7 564.2,1234.6 C569.8,1229.5 575.9,1223.7 580.2,1219.3 C584.5,1214.9 586.7,1211.8 589.9,1208.1 C593.1,1204.4 595.8,1201.5 599.5,1196.9 C603.2,1192.4 607.5,1187.0 612.3,1180.8 C617.1,1174.6 623.8,1166.3 628.4,1160.0 C633.0,1153.7 636.9,1148.2 640.0,1143.2 C643.1,1138.2 644.8,1133.8 647.2,1129.9 C649.6,1126.0 651.8,1123.5 654.4,1119.7 C657.0,1115.9 659.9,1111.0 662.9,1107.0 C665.9,1103.0 669.3,1099.3 672.5,1095.6 C675.7,1091.9 678.7,1088.5 682.1,1084.8 C685.5,1081.1 690.2,1076.4 693.0,1073.3 C695.8,1070.2 696.2,1069.1 699.0,1066.1 C701.8,1063.1 706.4,1058.1 709.8,1055.3 C713.2,1052.5 716.0,1051.1 719.4,1049.3 C722.8,1047.5 727.1,1045.1 730.3,1044.4 C733.5,1043.7 736.5,1044.6 738.7,1045.0 C740.9,1045.4 741.9,1045.8 743.5,1046.9 C745.1,1048.0 746.5,1050.1 748.3,1051.7 C750.1,1053.3 751.9,1054.8 754.3,1056.5 C756.6,1058.2 759.0,1060.2 762.4,1062.2 C765.8,1064.2 769.7,1066.4 774.4,1068.2 C779.1,1070.0 784.5,1071.2 790.5,1073.2 C796.5,1075.2 805.6,1078.3 810.5,1080.2 C815.4,1082.1 815.5,1082.7 820.0,1084.8 C824.5,1086.9 831.9,1089.8 837.8,1092.8 C843.7,1095.8 850.2,1099.9 855.5,1102.6 C860.8,1105.3 865.6,1106.4 869.7,1108.8 C873.9,1111.2 876.2,1114.0 880.4,1116.8 C884.5,1119.6 890.8,1123.0 894.6,1125.7 C898.4,1128.4 900.5,1130.6 903.4,1132.7 C906.3,1134.8 909.9,1135.9 912.3,1138.1 C914.7,1140.3 915.2,1143.6 917.6,1146.1 C920.0,1148.6 923.5,1151.1 926.5,1153.2 C929.5,1155.3 933.0,1156.7 935.4,1158.5 C937.8,1160.3 938.0,1161.9 940.7,1163.8 C943.4,1165.7 948.1,1168.1 951.4,1170.0 C954.6,1171.9 958.1,1174.0 960.2,1175.3 C962.3,1176.6 962.0,1178.3 963.8,1178.0 C965.6,1177.7 969.0,1173.3 970.9,1173.6 C972.8,1173.9 973.8,1179.2 975.3,1179.8 C976.8,1180.4 977.7,1176.8 979.8,1177.1 C981.9,1177.4 986.5,1180.8 987.8,1181.5" fill="none" stroke="#8000ff" stroke-width="5.0" stroke-linejoin="round" stroke-linecap="round"/>
</g>
<rect x="152.8" y="0.7" width="836.2" height="596.9" fill="none" stroke="#000" stroke-width="2"/>
<text transform="translate(138.5,610.4) scale(0.76,1)" font-size="43" text-anchor="end" >0</text>
<text transform="translate(138.5,439.9) scale(0.76,1)" font-size="43" text-anchor="end" > 000</text><path d="M515,0 L515,1237 L197,1010 L197,1180 L530,1409 L696,1409 L696,0 Z" transform="translate(65.80,439.86) scale(0.01596,-0.02100)" fill="#000"/>
<text transform="translate(138.5,269.3) scale(0.76,1)" font-size="43" text-anchor="end" >2000</text>
<text transform="translate(138.5,98.8) scale(0.76,1)" font-size="43" text-anchor="end" >3000</text>
<text transform="translate(202.0,644.8) scale(0.76,1)" font-size="43" text-anchor="middle" > </text><path d="M515,0 L515,1237 L197,1010 L197,1180 L530,1409 L696,1409 L696,0 Z" transform="translate(192.90,644.80) scale(0.01596,-0.02100)" fill="#000"/>
<text transform="translate(398.7,644.8) scale(0.76,1)" font-size="43" text-anchor="middle" >2</text>
<text transform="translate(595.5,644.8) scale(0.76,1)" font-size="43" text-anchor="middle" >3</text>
<text transform="translate(792.2,644.8) scale(0.76,1)" font-size="43" text-anchor="middle" >4</text>
<text transform="translate(989.0,644.8) scale(0.76,1)" font-size="43" text-anchor="middle" >5</text>
<text transform="translate(571.0,708.1) scale(0.78,1)" font-size="42" text-anchor="middle" >Energy (eV)</text>
<g transform="translate(39.5,370) rotate(-90)"><text transform="translate(-2.8,0.6) scale(1.2,1)" font-size="36.7" style="font-family:'Liberation Serif', serif">σ</text><path d="M515,0 L515,1237 L197,1010 L197,1180 L530,1409 L696,1409 L696,0 Z" transform="translate(21.50,10.60) scale(0.01274,-0.01416)" fill="#000"/><text transform="translate(45.3,-0.5) scale(0.68,1)" font-size="42" style="font-family:'Liberation Serif', serif">(</text><text transform="translate(54.2,0.0) scale(1.07,1)" font-size="42" style="font-family:'Liberation Serif', serif">Ω</text><text transform="translate(85.2,-15.6) scale(0.8,1)" font-size="29" style="font-family:'Liberation Sans', sans-serif">-</text><path d="M515,0 L515,1237 L197,1010 L197,1180 L530,1409 L696,1409 L696,0 Z" transform="translate(92.80,-16.40) scale(0.01274,-0.01416)" fill="#000"/><text transform="translate(105.4,0.0) scale(0.77,1)" font-size="41" style="font-family:'Liberation Sans', sans-serif">cm</text><text transform="translate(148.9,-15.6) scale(0.8,1)" font-size="29" style="font-family:'Liberation Sans', sans-serif">-</text><path d="M515,0 L515,1237 L197,1010 L197,1180 L530,1409 L696,1409 L696,0 Z" transform="translate(155.40,-16.40) scale(0.01274,-0.01416)" fill="#000"/><text transform="translate(168.5,-0.5) scale(0.68,1)" font-size="42" style="font-family:'Liberation Serif', serif">)</text></g>
<rect x="152.8" y="777.0" width="836.2" height="597.0" fill="none" stroke="#000" stroke-width="2"/>
<text transform="translate(138.5,1386.8) scale(0.76,1)" font-size="43" text-anchor="end" >0</text>
<text transform="translate(138.5,1216.2) scale(0.76,1)" font-size="43" text-anchor="end" > 000</text><path d="M515,0 L515,1237 L197,1010 L197,1180 L530,1409 L696,1409 L696,0 Z" transform="translate(65.80,1216.23) scale(0.01596,-0.02100)" fill="#000"/>
<text transform="translate(138.5,1045.7) scale(0.76,1)" font-size="43" text-anchor="end" >2000</text>
<text transform="translate(138.5,875.1) scale(0.76,1)" font-size="43" text-anchor="end" >3000</text>
<text transform="translate(202.0,1421.2) scale(0.76,1)" font-size="43" text-anchor="middle" > </text><path d="M515,0 L515,1237 L197,1010 L197,1180 L530,1409 L696,1409 L696,0 Z" transform="translate(192.90,1421.20) scale(0.01596,-0.02100)" fill="#000"/>
<text transform="translate(398.7,1421.2) scale(0.76,1)" font-size="43" text-anchor="middle" >2</text>
<text transform="translate(595.5,1421.2) scale(0.76,1)" font-size="43" text-anchor="middle" >3</text>
<text transform="translate(792.2,1421.2) scale(0.76,1)" font-size="43" text-anchor="middle" >4</text>
<text transform="translate(989.0,1421.2) scale(0.76,1)" font-size="43" text-anchor="middle" >5</text>
<text transform="translate(571.0,1484.5) scale(0.78,1)" font-size="42" text-anchor="middle" >Energy (eV)</text>
<g transform="translate(39.5,1144.2) rotate(-90)"><text transform="translate(-2.8,0.6) scale(1.2,1)" font-size="36.7" style="font-family:'Liberation Serif', serif">σ</text><path d="M515,0 L515,1237 L197,1010 L197,1180 L530,1409 L696,1409 L696,0 Z" transform="translate(21.50,10.60) scale(0.01274,-0.01416)" fill="#000"/><text transform="translate(45.3,-0.5) scale(0.68,1)" font-size="42" style="font-family:'Liberation Serif', serif">(</text><text transform="translate(54.2,0.0) scale(1.07,1)" font-size="42" style="font-family:'Liberation Serif', serif">Ω</text><text transform="translate(85.2,-15.6) scale(0.8,1)" font-size="29" style="font-family:'Liberation Sans', sans-serif">-</text><path d="M515,0 L515,1237 L197,1010 L197,1180 L530,1409 L696,1409 L696,0 Z" transform="translate(92.80,-16.40) scale(0.01274,-0.01416)" fill="#000"/><text transform="translate(105.4,0.0) scale(0.77,1)" font-size="41" style="font-family:'Liberation Sans', sans-serif">cm</text><text transform="translate(148.9,-15.6) scale(0.8,1)" font-size="29" style="font-family:'Liberation Sans', sans-serif">-</text><path d="M515,0 L515,1237 L197,1010 L197,1180 L530,1409 L696,1409 L696,0 Z" transform="translate(155.40,-16.40) scale(0.01274,-0.01416)" fill="#000"/><text transform="translate(168.5,-0.5) scale(0.68,1)" font-size="42" style="font-family:'Liberation Serif', serif">)</text></g>
<text x="-3.8" y="54.8" font-size="62" font-weight="bold">a</text>
<text x="-1.5" y="831.8" font-size="61" font-weight="bold">b</text>
<text transform="translate(168.9,46.5) scale(0.83,1)" font-size="37" >SrFe</text>
<text transform="translate(235.7,56.4) scale(0.84,1)" font-size="24" > -<tspan font-style="italic">x</tspan></text>
<path d="M515,0 L515,1237 L197,1010 L197,1180 L530,1409 L696,1409 L696,0 Z" transform="translate(235.70,56.40) scale(0.00984,-0.01172)" fill="#000"/>
<text transform="translate(262.4,46.5) scale(0.83,1)" font-size="37" >Co</text>
<text transform="translate(301.6,56.4) scale(0.84,1)" font-size="24" font-style="italic">x</text>
<text transform="translate(312.6,46.5) scale(0.83,1)" font-size="37" >O</text>
<text transform="translate(335,56.4) scale(0.84,1)" font-size="24" >2.5</text>
<line x1="169.6" y1="87.9" x2="252.6" y2="87.9" stroke="#bfbfbf" stroke-width="5.5" stroke-linecap="round"/>
<text transform="translate(261.0,101.9) scale(0.8,1)" font-size="38" text-anchor="start" >x=0.0</text>
<line x1="169.6" y1="133.8" x2="252.6" y2="133.8" stroke="#ff0080" stroke-width="5.5" stroke-linecap="round"/>
<text transform="translate(261.0,147.8) scale(0.8,1)" font-size="38" text-anchor="start" >x=0.2</text>
<line x1="169.6" y1="179.7" x2="252.6" y2="179.7" stroke="#000000" stroke-width="5.5" stroke-linecap="round"/>
<text transform="translate(261.0,193.7) scale(0.8,1)" font-size="38" text-anchor="start" >x=0.5</text>
<line x1="169.6" y1="225.6" x2="252.6" y2="225.6" stroke="#fbbfbf" stroke-width="5.5" stroke-linecap="round"/>
<text transform="translate(261.0,239.6) scale(0.8,1)" font-size="38" text-anchor="start" >x= .0</text><path d="M515,0 L515,1237 L197,1010 L197,1180 L530,1409 L696,1409 L696,0 Z" transform="translate(293.95,239.60) scale(0.01484,-0.01855)" fill="#000"/>
<line x1="169.8" y1="809.8" x2="252.9" y2="809.8" stroke="#000000" stroke-width="5.6" stroke-linecap="round"/>
<text transform="translate(260.5,823.8) scale(0.8,1)" font-size="38" text-anchor="start" >as-grown</text>
<line x1="169.8" y1="860.4" x2="252.9" y2="860.4" stroke="#ff8000" stroke-width="5.6" stroke-linecap="round"/>
<text transform="translate(260.5,874.4) scale(0.8,1)" font-size="38" text-anchor="start" >400<tspan font-size="26" dy="-15">o</tspan><tspan dy="15">C,  h</tspan></text>
<path d="M515,0 L515,1237 L197,1010 L197,1180 L530,1409 L696,1409 L696,0 Z" transform="translate(361.64,874.40) scale(0.01484,-0.01855)" fill="#000"/>
<line x1="169.8" y1="911.0" x2="252.9" y2="911.0" stroke="#00ff00" stroke-width="5.6" stroke-linecap="round"/>
<text transform="translate(260.5,925.0) scale(0.8,1)" font-size="38" text-anchor="start" >400<tspan font-size="26" dy="-15">o</tspan><tspan dy="15">C, 5h</tspan></text>
<line x1="169.8" y1="961.6" x2="252.9" y2="961.6" stroke="#8000ff" stroke-width="5.6" stroke-linecap="round"/>
<text transform="translate(260.5,975.6) scale(0.8,1)" font-size="38" text-anchor="start" >400<tspan font-size="26" dy="-15">o</tspan><tspan dy="15">C,  00h</tspan></text>
<path d="M515,0 L515,1237 L197,1010 L197,1180 L530,1409 L696,1409 L696,0 Z" transform="translate(361.64,975.60) scale(0.01484,-0.01855)" fill="#000"/>
<text transform="translate(532.0,973.5) scale(0.865,1)" font-size="35" text-anchor="start" >As-grown</text>
<text transform="translate(730.0,977.3) scale(0.865,1)" font-size="35" text-anchor="start" >H<tspan font-size="23" dy="10">2</tspan><tspan dy="-10"> (3%), 400</tspan><tspan font-size="23" dy="-13">o</tspan><tspan dy="13">C,</tspan></text>
<text transform="translate(769.5,1032.7) scale(0.865,1)" font-size="35" text-anchor="start" >5h anneal</text>
</g>
</svg></body></html>
